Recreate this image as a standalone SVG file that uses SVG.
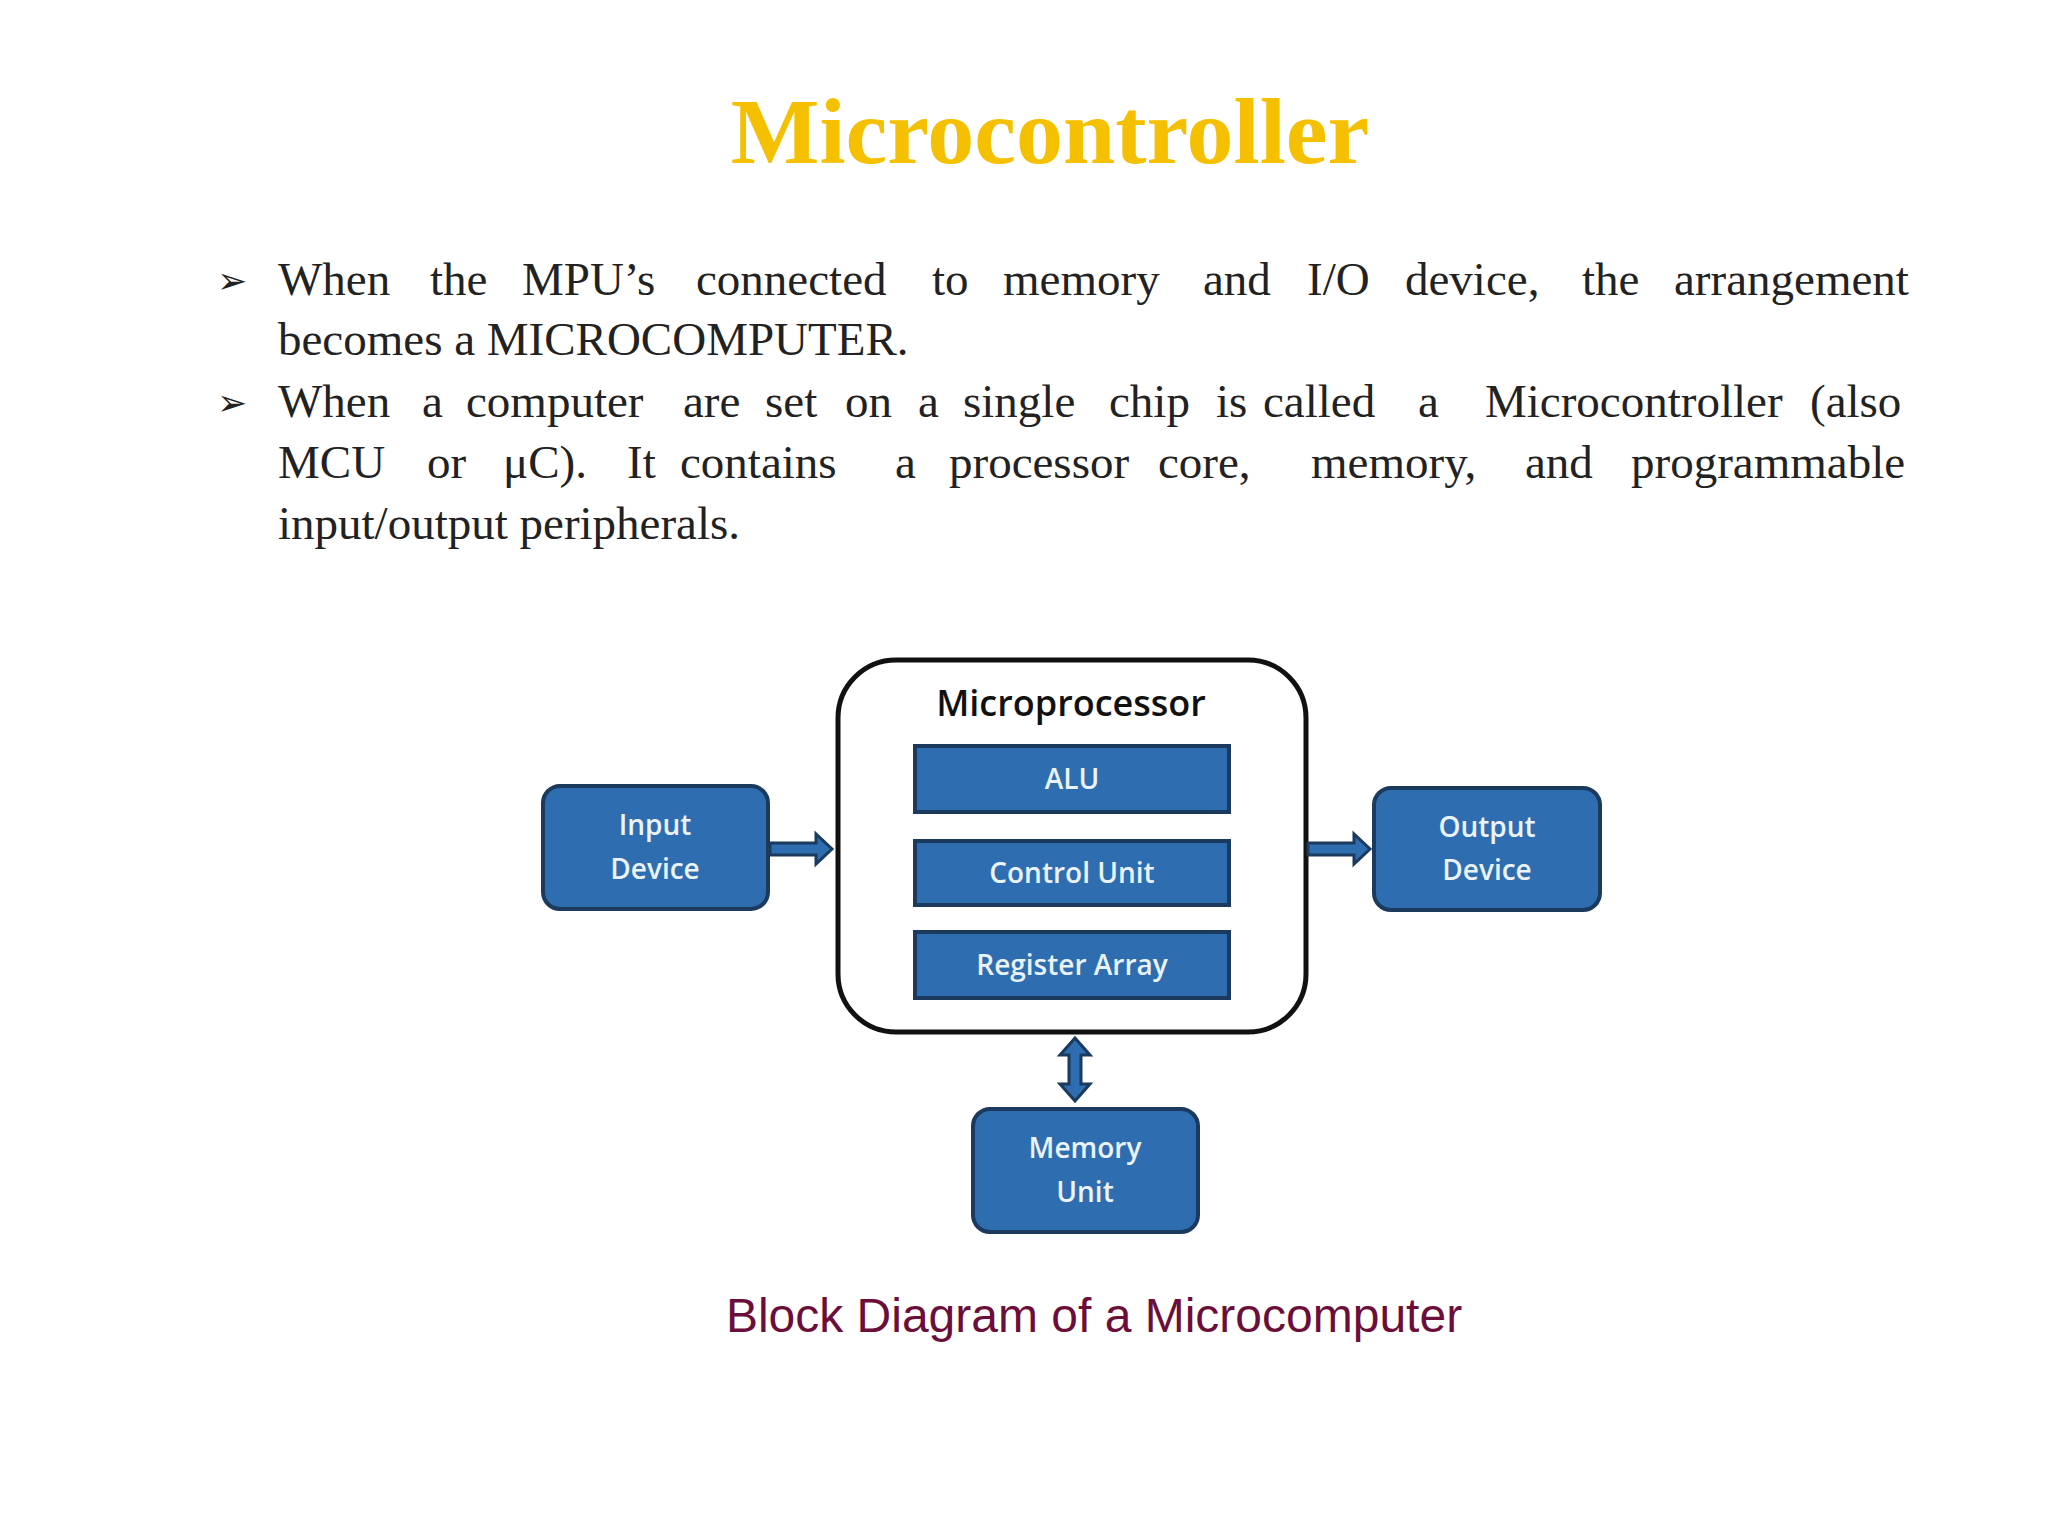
<svg xmlns="http://www.w3.org/2000/svg" width="2048" height="1536" viewBox="0 0 2048 1536">
<style>
.body{font-family:"Liberation Serif",serif;font-size:47px;fill:#222}
.blk{fill:#2E6DB0;stroke:#1B3A5E;stroke-width:4}
.lbl{font-family:"Open Sans","DejaVu Sans",sans-serif;font-size:28px;font-weight:600;fill:#EAF2FA;text-anchor:middle}
.arr{fill:#2E6DB0;stroke:#1B3A5E;stroke-width:3;stroke-linejoin:miter}
</style>
<rect width="2048" height="1536" fill="#ffffff"/>
<text x="1050" y="163" text-anchor="middle" font-family="Liberation Serif,serif" font-weight="bold" font-size="94" fill="#F5C000">Microcontroller</text>
<g class="body">
<text x="217" y="293" font-family="DejaVu Sans,sans-serif" font-size="36">➢</text>
<text y="295"><tspan x="278">When</tspan><tspan x="430">the</tspan><tspan x="522">MPU’s</tspan><tspan x="696">connected</tspan><tspan x="932">to</tspan><tspan x="1003">memory</tspan><tspan x="1203">and</tspan><tspan x="1307">I/O</tspan><tspan x="1405">device,</tspan><tspan x="1582">the</tspan><tspan x="1674">arrangement</tspan></text>
<text x="278" y="355">becomes a MICROCOMPUTER.</text>
<text x="217" y="415" font-family="DejaVu Sans,sans-serif" font-size="36">➢</text>
<text y="417"><tspan x="278">When</tspan><tspan x="422">a</tspan><tspan x="466">computer</tspan><tspan x="683">are</tspan><tspan x="765">set</tspan><tspan x="845">on</tspan><tspan x="918">a</tspan><tspan x="963">single</tspan><tspan x="1109">chip</tspan><tspan x="1216">is</tspan><tspan x="1263">called</tspan><tspan x="1418">a</tspan><tspan x="1485">Microcontroller</tspan><tspan x="1810">(also</tspan></text>
<text y="478"><tspan x="278">MCU</tspan><tspan x="427">or</tspan><tspan x="503">μC).</tspan><tspan x="627">It</tspan><tspan x="680">contains</tspan><tspan x="895">a</tspan><tspan x="949">processor</tspan><tspan x="1158">core,</tspan><tspan x="1311">memory,</tspan><tspan x="1525">and</tspan><tspan x="1631">programmable</tspan></text>
<text x="278" y="539">input/output peripherals.</text>
</g>
<g id="microprocessor">
<rect x="838" y="660" width="468" height="372" rx="58" fill="#fff" stroke="#111" stroke-width="5"/>
<text x="1071" y="716" font-family="Open Sans,DejaVu Sans,sans-serif" font-size="36" font-weight="600" fill="#111" text-anchor="middle">Microprocessor</text>
</g>
<g id="alu"><rect class="blk" x="915" y="746" width="314" height="66"/><text class="lbl" x="1072" y="789">ALU</text></g>
<g id="control"><rect class="blk" x="915" y="841" width="314" height="64"/><text class="lbl" x="1072" y="883">Control Unit</text></g>
<g id="register"><rect class="blk" x="915" y="932" width="314" height="66"/><text class="lbl" x="1072" y="975">Register Array</text></g>
<g id="input"><rect class="blk" x="543" y="786" width="225" height="123" rx="17"/><text class="lbl" x="655" y="835">Input</text><text class="lbl" x="655" y="879">Device</text></g>
<g id="output"><rect class="blk" x="1374" y="788" width="226" height="122" rx="17"/><text class="lbl" x="1487" y="837">Output</text><text class="lbl" x="1487" y="880">Device</text></g>
<g id="memory"><rect class="blk" x="973" y="1109" width="225" height="123" rx="17"/><text class="lbl" x="1085" y="1158">Memory</text><text class="lbl" x="1085" y="1202">Unit</text></g>
<g id="connectors">
<polygon class="arr" points="770,843 816,843 816,834 832,849 816,864 816,855 770,855"/>
<polygon class="arr" points="1308,843 1354,843 1354,834 1370,849 1354,864 1354,855 1308,855"/>
<polygon class="arr" points="1075,1038 1090,1055 1081,1055 1081,1084 1090,1084 1075,1101 1060,1084 1069,1084 1069,1055 1060,1055"/>
</g>
<text x="1094" y="1332" text-anchor="middle" font-family="Liberation Sans,sans-serif" font-size="48" fill="#6B0F3A">Block Diagram of a Microcomputer</text>
</svg>
